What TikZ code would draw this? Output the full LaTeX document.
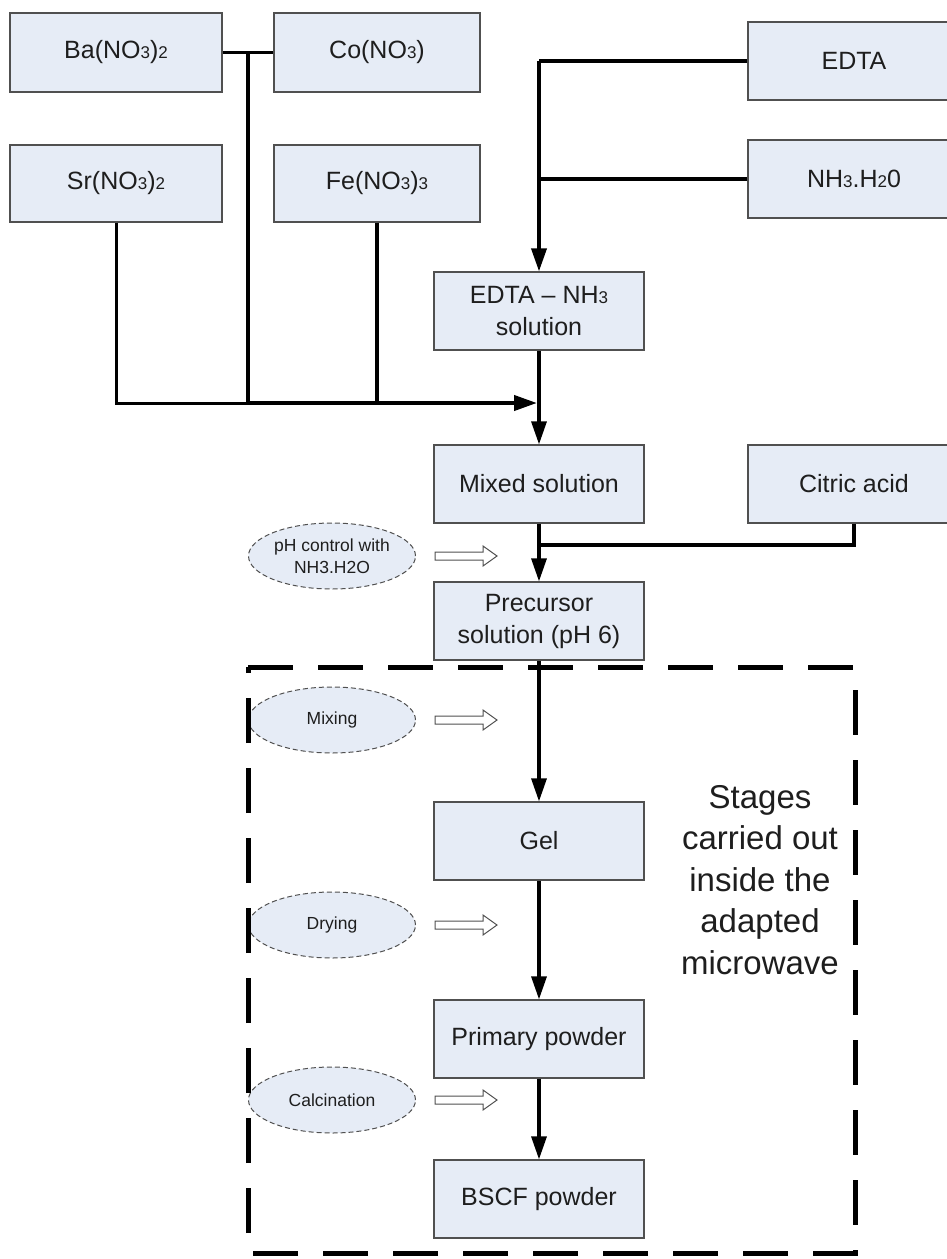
\documentclass[tikz,border=0pt]{standalone}
\usepackage{fontspec}
\setmainfont{Liberation Sans}
\usetikzlibrary{arrows.meta,shapes.geometric,calc}
\definecolor{boxfill}{HTML}{E6ECF6}
\definecolor{boxline}{HTML}{505050}
\definecolor{textgray}{HTML}{1E1E1E}
% small digits used for the chemical formulas
\newcommand{\ssub}[1]{{\fontsize{17}{17}\selectfont #1}}
% outlined block arrow pointing to the right, starting at a coordinate
\newcommand{\hollowarrow}[1]{%
  \draw[hollow] (#1) ++(0,-4) -- ++(48,0) -- ++(0,-6) -- ++(14,10)
    -- ++(-14,10) -- ++(0,-6) -- ++(-48,0) -- cycle;}
\tikzset{
  box/.style={draw=boxline, fill=boxfill, line width=1.2pt, inner sep=0pt,
    minimum height=78pt, align=center, text=textgray,
    font=\fontsize{25}{32}\selectfont},
  leftbox/.style={box, minimum width=212pt},
  midbox/.style={box, minimum width=206pt},
  colbox/.style={box, minimum width=210pt},
  sidebox/.style={box, minimum width=212pt},
  stage/.style={ellipse, draw=boxline, fill=boxfill, line width=1pt,
    dash pattern=on 5pt off 3pt, minimum width=167pt, minimum height=66pt,
    inner sep=0pt, align=center, text=textgray,
    font=\fontsize{17.5}{21.5}\selectfont},
  wire/.style={line width=3.2pt, black},
  flow/.style={wire, -{Triangle[width=15pt,length=23pt]}},
  hollow/.style={draw=boxline, fill=white, line width=1pt, line join=miter},
  region/.style={line width=5pt, black, dash pattern=on 45pt off 25pt},
}
\begin{document}
\begin{tikzpicture}[x=1pt,y=-1pt]
\clip (0,0) rectangle (947,1259);
\fill[white] (0,0) rectangle (947,1259);

% nitrate salts
\node[leftbox, minimum height=79pt] (ba) at (116,52.5) {Ba(NO\ssub{3})\ssub{2}};
\node[midbox, minimum height=79pt] (co) at (377,52.5) {Co(NO\ssub{3})};
\node[leftbox, minimum height=77pt] (sr) at (116,183.5) {Sr(NO\ssub{3})\ssub{2}};
\node[midbox, minimum height=77pt] (fe) at (377,183.5) {Fe(NO\ssub{3})\ssub{3}};

% complexing agents
\node[sidebox] (edta) at (854,61) {EDTA};
\node[sidebox] (nh) at (854,179) {NH\ssub{3}.H\ssub{2}0};
\node[sidebox] (cit) at (854,484) {Citric acid};

% main column
\node[colbox] (ens) at (539,311) {EDTA -- NH\ssub{3}\\solution};
\node[colbox] (mix) at (539,484) {Mixed solution};
\node[colbox] (pre) at (539,621) {Precursor\\solution (pH 6)};
\node[colbox] (gel) at (539,841) {Gel};
\node[colbox] (pri) at (539,1039) {Primary powder};
\node[colbox] (bscf) at (539,1199) {BSCF powder};

% process steps
\node[stage] (ph) at (332,556) {pH control with\\NH3.H2O};
\node[stage] (mixing) at (332,720) {Mixing};
\node[stage] (dry) at (332,925) {Drying};
\node[stage] (calc) at (332,1100) {Calcination};

% collecting lines of the nitrates
\coordinate (bus) at (539,403);
\coordinate (j1) at ($(ba.east)!0.5!(co.west)$);
\draw[wire] (ba.east) -- (co.west);
\draw[wire] (j1) -- (j1 |- bus);
\draw[wire, line width=3pt] (sr.south) -- (sr.south |- bus) -- (j1 |- bus);
\draw[wire] (fe.south) -- (fe.south |- bus);
\draw[flow, line width=4pt] (j1 |- bus) -- ([xshift=-2pt]bus);

% EDTA and ammonia
\draw[wire] (edta.west) -- (ens.north |- edta.west);
\draw[wire] (nh.west) -- (ens.north |- nh.west);
\draw[flow, line width=3.6pt] (ens.north |- edta.west) -- (ens.north);

% citric acid
\coordinate (cj) at (539,545);
\draw[wire] (cit.south) -- (cit.south |- cj) -- (cj);

% main flow
\draw[flow] (ens.south) -- (mix.north);
\draw[flow] (mix.south) -- (pre.north);
\draw[flow] (pre.south) -- (gel.north);
\draw[flow] (gel.south) -- (pri.north);
\draw[flow] (pri.south) -- (bscf.north);

% block arrows from the process steps
\path (ph.east) ++(19,0) coordinate (a1);
\path (mixing.east) ++(19,0) coordinate (a2);
\path (dry.east) ++(19,0) coordinate (a3);
\path (calc.east) ++(19,0) coordinate (a4);
\hollowarrow{a1}
\hollowarrow{a2}
\hollowarrow{a3}
\hollowarrow{a4}

% microwave stages
\draw[region] (248,667) -- (855,667) -- (855,1253) -- (248,1253) -- cycle;
\node[align=center, text=textgray, font=\fontsize{33}{41.5}\selectfont] (note) at (760,880)
  {Stages\\carried out\\inside the\\adapted\\microwave};
\end{tikzpicture}
\end{document}
